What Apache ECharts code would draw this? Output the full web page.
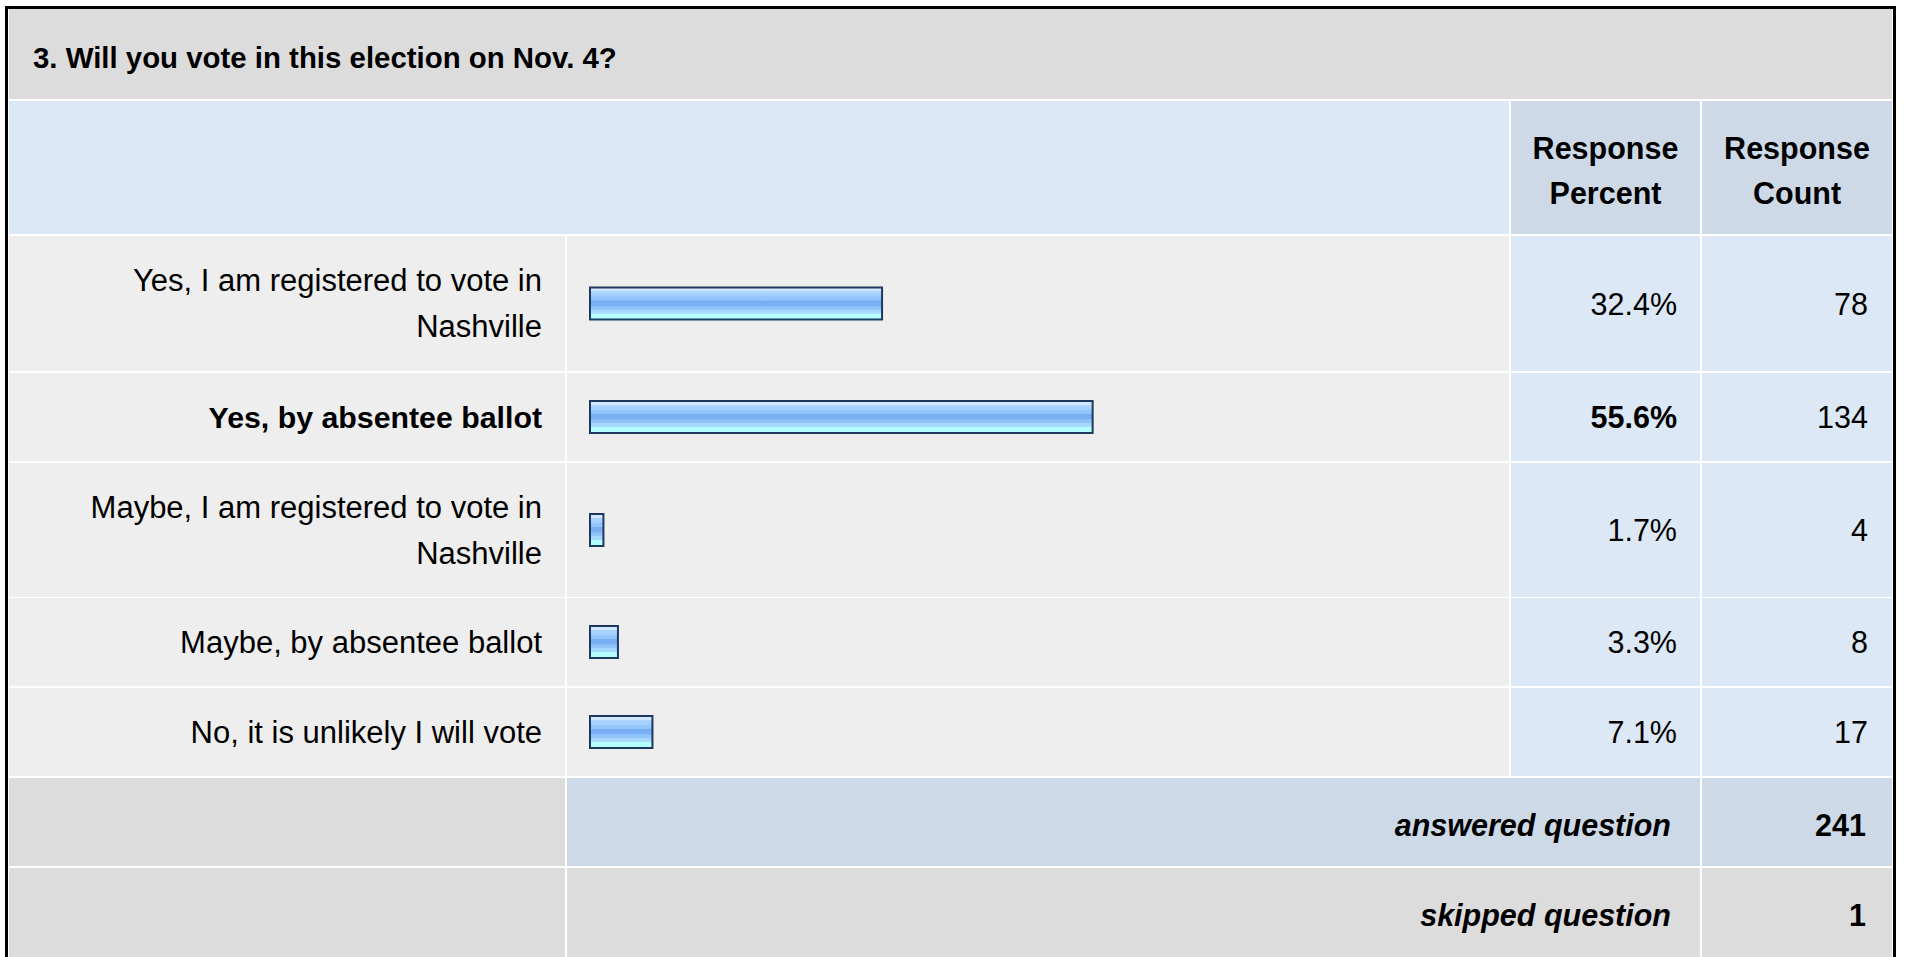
<!DOCTYPE html>
<html><head><meta charset="utf-8">
<script src="https://cdn.jsdelivr.net/npm/echarts@6/dist/echarts.min.js"></script>
<style>html,body{margin:0;padding:0;background:#fff}#c{width:1907px;height:957px}</style>
</head><body><div id="c"></div><script>
// ---------- data ----------
const questionTitle = '3. Will you vote in this election on Nov. 4?';
const answers = [
  'Yes, I am registered to vote in Nashville',
  'Yes, by absentee ballot',
  'Maybe, I am registered to vote in Nashville',
  'Maybe, by absentee ballot',
  'No, it is unlikely I will vote'
];
const responsePercent = [32.4, 55.6, 1.7, 3.3, 7.1];
const responseCount = [78, 134, 4, 8, 17];
const columnHeaders = ['Response\nPercent', 'Response\nCount'];
const summaryLabels = ['answered question', 'skipped question'];
const summaryCounts = [241, 1];

// ---------- layout ----------
const FONT = 'Arial, Liberation Sans, Helvetica, sans-serif';
const FS = 30.5;
const FS_LABEL = 31, FS_LABEL_BOLD = 30.3, FS_TITLE = 29.4;
const X = {l0: 9, l1: 565, b0: 567, b1: 1509, p0: 1511, p1: 1700, c0: 1702, c1: 1892};
const rowTop = [236, 373, 463, 598, 688];
const rowH = [135, 88, 134, 88, 88];
const sumTop = [778, 868], sumH = [88, 90];
const barX0 = 589, barW100 = 907.6;
const gridRight = barX0 + barW100;
const labelRight = 542, pctRight = 1677, cntRight = 1868;
const labelMaxWidth = 470;
const COL = {gray: '#dcdcdc', cell: '#eeeeee', blue: '#dce8f5', blueDark: '#cdd9e6', ink: '#000000'};
const maxIdx = responsePercent.indexOf(Math.max(...responsePercent));

// word wrap without trailing spaces
const measureCtx = document.createElement('canvas').getContext('2d');
function wrap(str, bold) {
  measureCtx.font = (bold ? 'bold ' + FS_LABEL_BOLD : FS_LABEL) + 'px ' + FONT;
  const words = str.split(' ');
  const lines = [];
  let cur = '';
  words.forEach(w => {
    const test = cur ? cur + ' ' + w : w;
    if (cur && measureCtx.measureText(test).width > labelMaxWidth) { lines.push(cur); cur = w; }
    else cur = test;
  });
  if (cur) lines.push(cur);
  return lines.join('\n');
}

const barFill = new echarts.graphic.LinearGradient(0, 0, 0, 1, [
  {offset: 0, color: '#d2eaff'}, {offset: 0.11, color: '#cfe8ff'},
  {offset: 0.12, color: '#acd6ff'}, {offset: 0.27, color: '#a2cfff'},
  {offset: 0.28, color: '#94c5fb'}, {offset: 0.40, color: '#92c3fa'},
  {offset: 0.41, color: '#78aef2'}, {offset: 0.57, color: '#7ab0f3'},
  {offset: 0.58, color: '#8ec0fa'}, {offset: 0.69, color: '#94c6fc'},
  {offset: 0.70, color: '#a4d6ff'}, {offset: 0.81, color: '#aadcff'},
  {offset: 0.82, color: '#b4ffff'}, {offset: 1, color: '#b4ffff'}
]);

function rect(x, y, w, h, fill) {
  return {type: 'rect', z: -10, silent: true, shape: {x, y, width: w, height: h}, style: {fill}};
}
function text(x, y, t, opts) {
  return {type: 'text', z: 100, silent: true, x, y,
    style: Object.assign({text: t, fill: COL.ink, fontSize: FS, fontFamily: FONT,
      align: 'right', verticalAlign: 'middle'}, opts || {})};
}

const graphics = [];
graphics.push(rect(X.l0, 9, X.c1 - X.l0, 90, COL.gray));
graphics.push(rect(X.l0, 101, X.b1 - X.l0, 133, COL.blue));
graphics.push(rect(X.p0, 101, X.p1 - X.p0, 133, COL.blueDark));
graphics.push(rect(X.c0, 101, X.c1 - X.c0, 133, COL.blueDark));
graphics.push(text((X.p0 + X.p1) / 2, 170, columnHeaders[0], {align: 'center', fontWeight: 'bold', lineHeight: 45}));
graphics.push(text((X.c0 + X.c1) / 2, 170, columnHeaders[1], {align: 'center', fontWeight: 'bold', lineHeight: 45}));
rowTop.forEach((t, i) => {
  graphics.push(rect(X.l0, t, X.l1 - X.l0, rowH[i], COL.cell));
  graphics.push(rect(X.b0, t, X.b1 - X.b0, rowH[i], COL.cell));
  graphics.push(rect(X.p0, t, X.p1 - X.p0, rowH[i], COL.blue));
  graphics.push(rect(X.c0, t, X.c1 - X.c0, rowH[i], COL.blue));
});
const sumFill = [COL.blueDark, COL.gray];
sumTop.forEach((t, i) => {
  graphics.push(rect(X.l0, t, X.l1 - X.l0, sumH[i], COL.gray));
  graphics.push(rect(X.b0, t, X.p1 - X.b0, sumH[i], sumFill[i]));
  graphics.push(rect(X.c0, t, X.c1 - X.c0, sumH[i], sumFill[i]));
  const cy = (i === 0 ? t + sumH[i] / 2 : t + 44) + 3;
  graphics.push(text(1671, cy, summaryLabels[i], {fontWeight: 'bold', fontStyle: 'italic'}));
  graphics.push(text(1866, cy, String(summaryCounts[i]), {fontWeight: 'bold'}));
});
graphics.push({type: 'rect', z: 200, silent: true, shape: {x: 6.5, y: 7.5, width: 1888, height: 1000},
  style: {fill: 'none', stroke: '#000', lineWidth: 3}});

const grids = [], xAxes = [], yAxes = [], series = [];
const baseLabel = {fontSize: FS, fontFamily: FONT, color: COL.ink, padding: [6, 0, 0, 0]};
answers.forEach((name, i) => {
  const bold = i === maxIdx;
  grids.push({left: barX0, top: rowTop[i], width: barW100, height: rowH[i], show: false});
  xAxes.push({gridIndex: i, type: 'value', min: 0, max: 100, show: false});
  const hidden = {axisLine: {show: false}, axisTick: {show: false}, splitLine: {show: false}};
  yAxes.push(Object.assign({gridIndex: i, type: 'category', data: [name], position: 'left',
    axisLabel: Object.assign({}, baseLabel, {margin: barX0 - labelRight, align: 'right',
      fontSize: bold ? FS_LABEL_BOLD : FS_LABEL,
      lineHeight: 46, fontWeight: bold ? 'bold' : 'normal',
      formatter: v => wrap(v, bold)})}, hidden));
  yAxes.push(Object.assign({gridIndex: i, type: 'category', data: [name], position: 'right',
    axisLabel: Object.assign({}, baseLabel, {margin: pctRight - gridRight, align: 'right',
      fontWeight: bold ? 'bold' : 'normal',
      formatter: () => responsePercent[i].toFixed(1) + '%'})}, hidden));
  yAxes.push(Object.assign({gridIndex: i, type: 'category', data: [name], position: 'right',
    axisLabel: Object.assign({}, baseLabel, {margin: cntRight - gridRight, align: 'right',
      formatter: () => String(responseCount[i])})}, hidden));
  series.push({type: 'bar', name, xAxisIndex: i, yAxisIndex: 3 * i, data: [responsePercent[i]],
    barWidth: 34, silent: true,
    itemStyle: {color: barFill, borderColor: '#1e3960', borderWidth: 2}});
});

const chart = echarts.init(document.getElementById('c'), null, {renderer: 'svg'});
chart.setOption({
  animation: false,
  backgroundColor: '#ffffff',
  title: {text: questionTitle, left: 33, top: 42, padding: 0,
    textStyle: {fontSize: FS_TITLE, fontWeight: 'bold', fontFamily: FONT, color: COL.ink, lineHeight: 30}},
  grid: grids, xAxis: xAxes, yAxis: yAxes, series,
  graphic: {elements: graphics}
});
</script></body></html>
